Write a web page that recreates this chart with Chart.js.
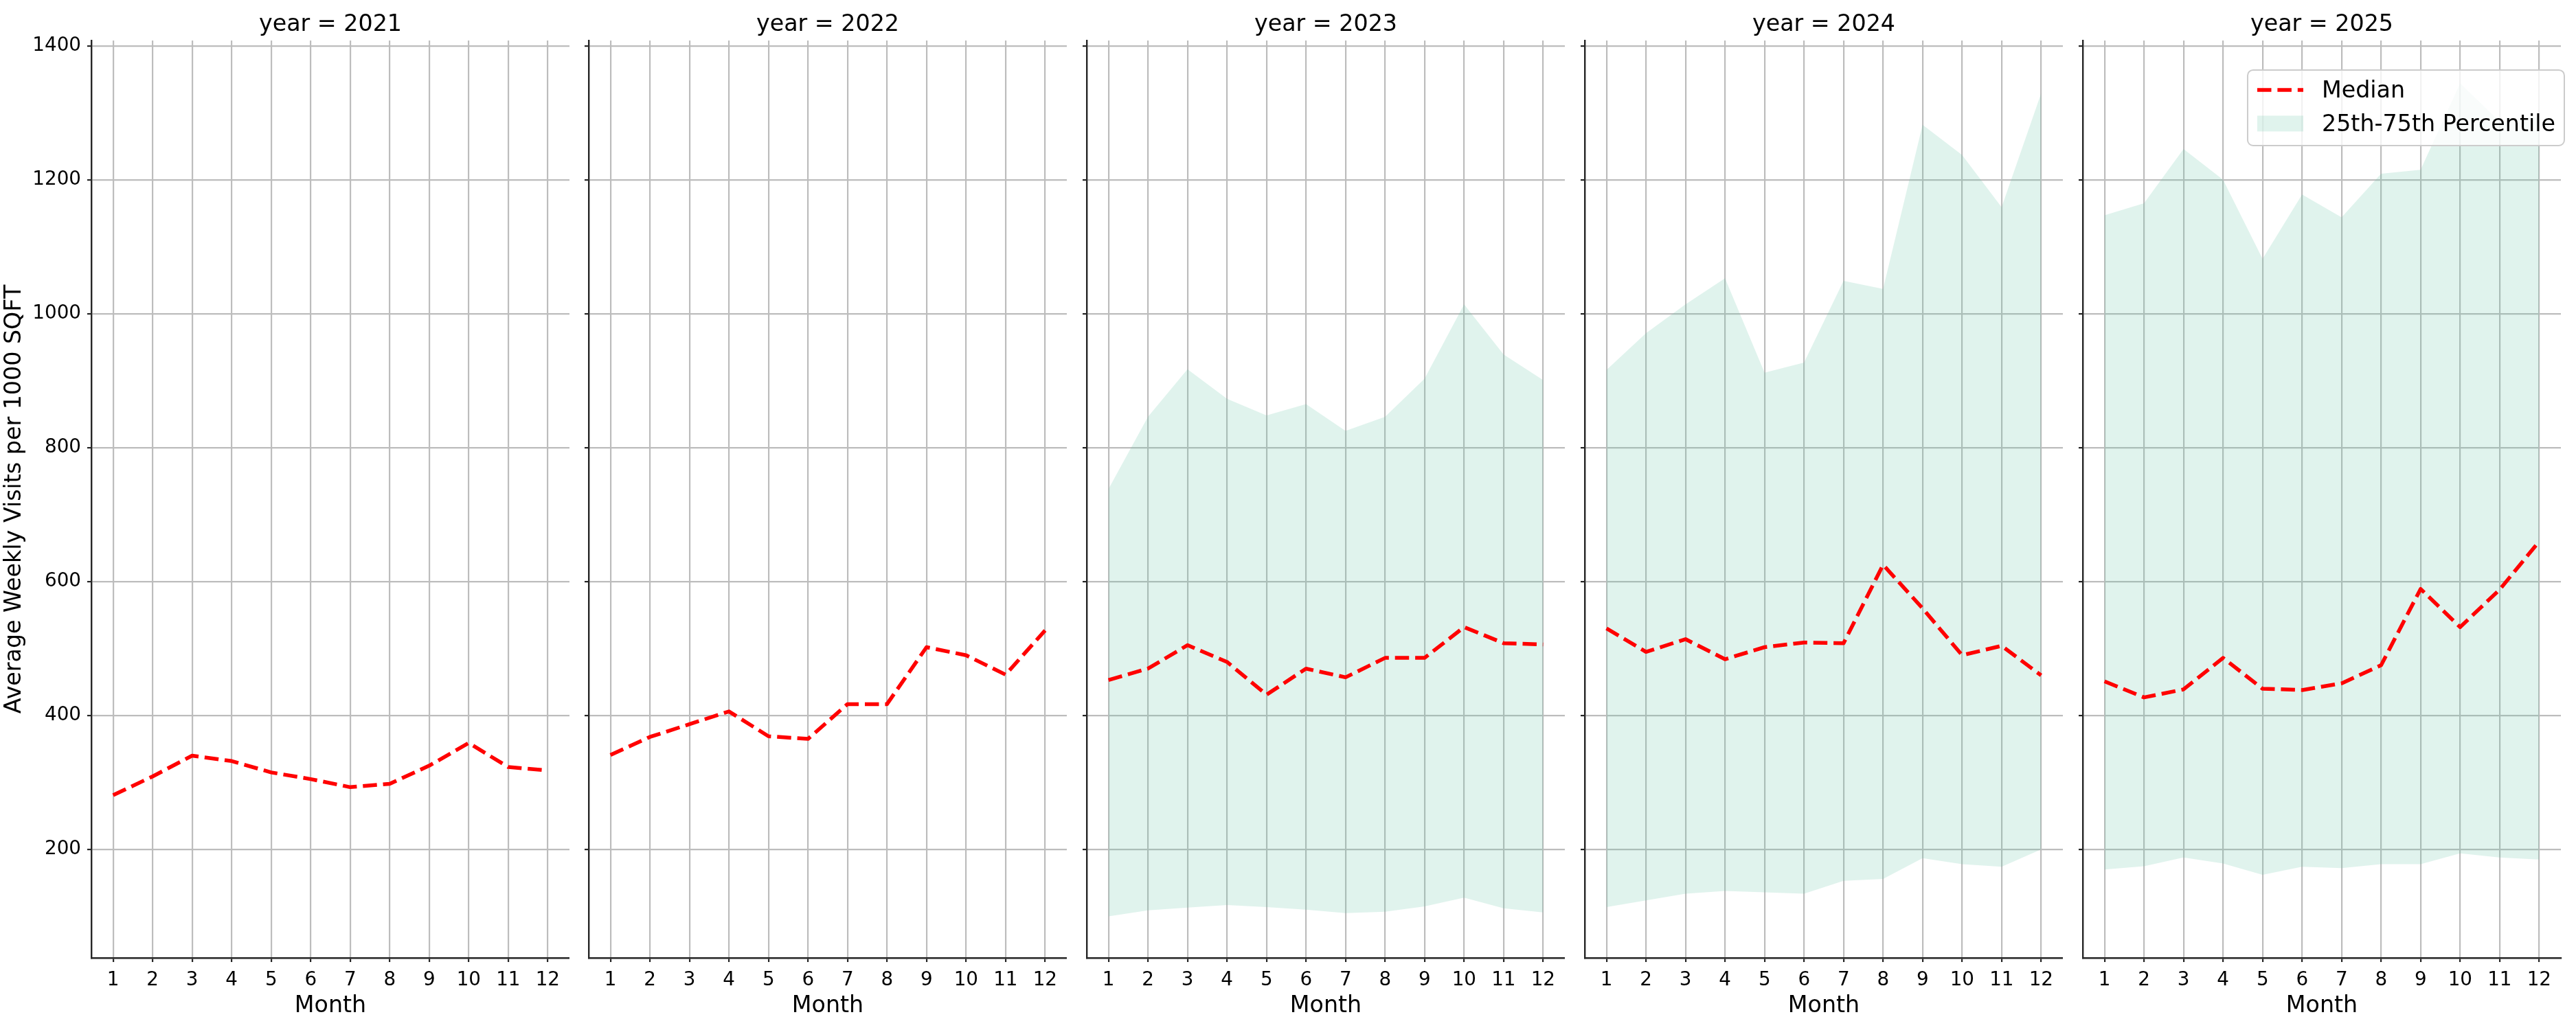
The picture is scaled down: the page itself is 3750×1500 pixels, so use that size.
<!DOCTYPE html>
<html>
<head>
<meta charset="utf-8">
<title>Average Weekly Visits per 1000 SQFT by Month</title>
<script src="https://cdn.jsdelivr.net/npm/chart.js@4.4.1/dist/chart.umd.min.js"></script>
<style>
  html, body { margin: 0; padding: 0; background: #ffffff; }
  #page { position: relative; width: 3750px; height: 1500px; overflow: hidden; background: #ffffff; }
  #page canvas { position: absolute; top: 0; }
</style>
</head>
<body>
<div id="page"></div>
<script>
// x categories and tick labels
const months = [1, 2, 3, 4, 5, 6, 7, 8, 9, 10, 11, 12];
const yTicks = [200, 400, 600, 800, 1000, 1200, 1400];
const years = [2021, 2022, 2023, 2024, 2025];

// Median weekly visits per 1000 sqft
const median2021 = [281, 309, 340, 332, 315, 305, 293, 298, 325, 359, 323, 318];
const median2022 = [341, 368, 387, 406, 369, 365, 417, 417, 502, 490, 461, 527];
const median2023 = [453, 470, 505, 480, 431, 470, 457, 486, 486, 532, 508, 506];
const median2024 = [530, 495, 514, 484, 502, 509, 508, 625, 560, 490, 504, 460];
const median2025 = [451, 427, 439, 486, 440, 438, 448, 475, 589, 532, 588, 660];

// 25th percentile (no band for 2021 / 2022)
const q25_2023 = [100, 109, 113, 117, 114, 110, 105, 107, 115, 128, 112, 106];
const q25_2024 = [114, 124, 134, 138, 136, 134, 153, 156, 187, 178, 174, 200];
const q25_2025 = [170, 175, 188, 179, 162, 174, 172, 178, 178, 194, 188, 185];

// 75th percentile
const q75_2023 = [738, 846, 917, 873, 848, 865, 825, 846, 903, 1014, 939, 901];
const q75_2024 = [916, 971, 1014, 1053, 912, 927, 1049, 1037, 1282, 1237, 1159, 1329];
const q75_2025 = [1147, 1165, 1246, 1200, 1082, 1178, 1144, 1209, 1215, 1344, 1287, 1295];

const medians = [median2021, median2022, median2023, median2024, median2025];
const lowers = [null, null, q25_2023, q25_2024, q25_2025];
const uppers = [null, null, q75_2023, q75_2024, q75_2025];

// layout of the five facets (page pixels)
const PANEL_LEFT = 132.5;
const PANEL_STEP = 724.8;
const PANEL_WIDTH = 696;
const PAGE_HEIGHT = 1500;
const X_AXIS_HEIGHT = 105;

const FONT = 'DejaVu Sans';
const TICK_SIZE = 27.8;
const LABEL_SIZE = 33.3;
const SPINE = '#262626';
const GRID = '#bdbdbd';
const MEDIAN_RED = '#ff0000';
const BAND_FILL = 'rgba(102, 194, 165, 0.2)';

Chart.defaults.font.family = FONT;
Chart.defaults.color = '#000000';

function toPoints(values) {
  return months.map((m, i) => ({ x: m, y: values[i] }));
}

// Legend box drawn inside the last facet, matplotlib style
const facetLegend = {
  id: 'facetLegend',
  afterDraw(chart, args, opts) {
    if (!opts.display) return;
    const ctx = chart.ctx;
    const area = chart.chartArea;
    const right = area.right + 5;
    const top = area.top + 43;
    const w = 461, h = 110;
    const left = right - w;

    ctx.save();
    // frame
    ctx.beginPath();
    ctx.roundRect(left, top, w, h, 8);
    ctx.fillStyle = 'rgba(255, 255, 255, 0.8)';
    ctx.fill();
    ctx.lineWidth = 2;
    ctx.strokeStyle = '#cccccc';
    ctx.stroke();

    const med = chart.data.datasets[0];
    const band = chart.data.datasets[2];
    const sx = left + 14, sw = 67;
    const tx = left + 108;
    const row1 = top + 29, row2 = top + 78;

    // median sample
    ctx.beginPath();
    ctx.setLineDash(med.borderDash);
    ctx.lineWidth = med.borderWidth;
    ctx.strokeStyle = med.borderColor;
    ctx.moveTo(sx, row1);
    ctx.lineTo(sx + sw, row1);
    ctx.stroke();
    ctx.setLineDash([]);

    // band sample
    ctx.fillStyle = band.backgroundColor;
    ctx.fillRect(sx, row2 - 11.5, sw, 23);

    ctx.fillStyle = '#000000';
    ctx.font = LABEL_SIZE + 'px "' + FONT + '"';
    ctx.textBaseline = 'middle';
    ctx.textAlign = 'left';
    ctx.fillText(med.label, tx, row1 + 2);
    ctx.fillText(band.label, tx, row2 + 2);
    ctx.restore();
  }
};

const page = document.getElementById('page');

years.forEach((year, idx) => {
  const first = idx === 0;
  const last = idx === years.length - 1;
  const areaLeft = Math.round(PANEL_LEFT + idx * PANEL_STEP);
  const yAxisWidth = first ? 132 : 20;
  const rightPad = last ? 30 : 0;

  const canvas = document.createElement('canvas');
  canvas.width = yAxisWidth + PANEL_WIDTH + rightPad;
  canvas.height = PAGE_HEIGHT;
  canvas.style.left = (areaLeft - yAxisWidth) + 'px';
  page.appendChild(canvas);

  const datasets = [{
    label: 'Median',
    data: toPoints(medians[idx]),
    borderColor: MEDIAN_RED,
    borderWidth: 5.5,
    borderDash: [20.5, 8.9],
    borderJoinStyle: 'round',
    pointRadius: 0,
    tension: 0,
    fill: false
  }];

  if (lowers[idx]) {
    datasets.push({
      label: '25th Percentile',
      data: toPoints(lowers[idx]),
      borderColor: 'rgba(0, 0, 0, 0)',
      borderWidth: 0,
      pointRadius: 0,
      fill: false
    });
    datasets.push({
      label: '25th-75th Percentile',
      data: toPoints(uppers[idx]),
      borderColor: 'rgba(0, 0, 0, 0)',
      borderWidth: 0,
      backgroundColor: BAND_FILL,
      pointRadius: 0,
      fill: 1
    });
  }

  new Chart(canvas, {
    type: 'line',
    data: { datasets: datasets },
    options: {
      responsive: false,
      animation: false,
      devicePixelRatio: 1,
      layout: { padding: { left: 0, right: rightPad, top: 0, bottom: 0 } },
      plugins: {
        legend: { display: false },
        tooltip: { enabled: false },
        title: {
          display: true,
          text: 'year = ' + year,
          fullSize: false,
          color: '#000000',
          font: { size: LABEL_SIZE, weight: 'normal', lineHeight: 1.2 },
          padding: { top: 16, bottom: 3 }
        },
        facetLegend: { display: last }
      },
      scales: {
        x: {
          type: 'linear',
          min: 0.45,
          max: 12.55,
          afterBuildTicks: (axis) => { axis.ticks = months.map(v => ({ value: v })); },
          afterFit: (axis) => { axis.height = X_AXIS_HEIGHT; },
          ticks: {
            font: { size: TICK_SIZE },
            color: '#000000',
            padding: 10,
            maxRotation: 0,
            autoSkip: false,
            callback: (v) => String(v)
          },
          grid: {
            color: GRID,
            lineWidth: 2.2,
            drawTicks: true,
            tickLength: 6,
            tickColor: SPINE,
            tickWidth: 2.2
          },
          border: { display: true, color: SPINE, width: 2.4 },
          title: {
            display: true,
            text: 'Month',
            color: '#000000',
            font: { size: LABEL_SIZE, lineHeight: 1.2 },
            padding: { top: 0, bottom: 15 }
          }
        },
        y: {
          type: 'linear',
          min: 38,
          max: 1408,
          afterBuildTicks: (axis) => { axis.ticks = yTicks.map(v => ({ value: v })); },
          afterFit: (axis) => { axis.width = yAxisWidth; },
          ticks: {
            display: first,
            font: { size: TICK_SIZE },
            color: '#000000',
            padding: 9,
            callback: (v) => String(v)
          },
          grid: {
            color: GRID,
            lineWidth: 2.2,
            drawTicks: true,
            tickLength: 6,
            tickColor: SPINE,
            tickWidth: 2.2
          },
          border: { display: true, color: SPINE, width: 2.4 },
          title: {
            display: first,
            text: 'Average Weekly Visits per 1000 SQFT',
            color: '#000000',
            font: { size: LABEL_SIZE, lineHeight: 1.2 },
            padding: { top: 0, bottom: 0 }
          }
        }
      }
    },
    plugins: [facetLegend]
  });
});
</script>
</body>
</html>
